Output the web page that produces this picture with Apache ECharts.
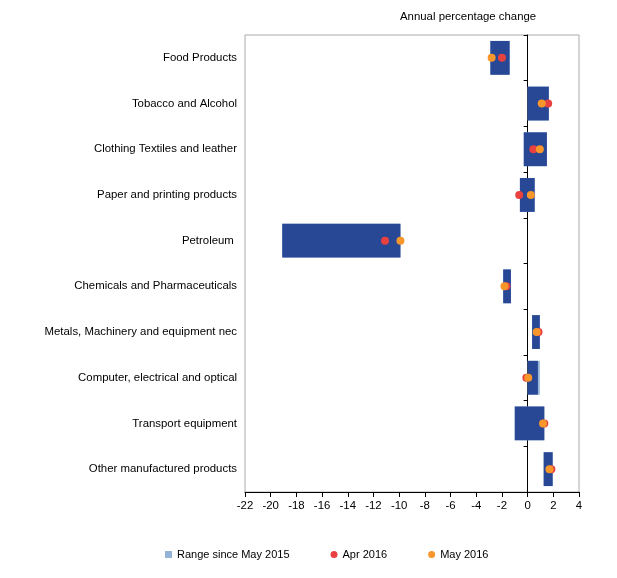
<!DOCTYPE html>
<html>
<head>
	<meta charset="utf-8">
	<title>Annual percentage change</title>
	<style type="text/css">
		body { margin: 0; padding: 0; background: #fff; }
		#main { width: 617px; height: 578px; }
	</style>
	<script src="https://cdn.jsdelivr.net/npm/echarts@6/dist/echarts.min.js"></script>
</head>
<body>
	<div id="main"></div>
	<script type="text/javascript">

	// categories, top to bottom
	var categories = [
		'Food Products',
		'Tobacco and Alcohol',
		'Clothing Textiles and leather',
		'Paper and printing products',
		'Petroleum ',
		'Chemicals and Pharmaceuticals',
		'Metals, Machinery and equipment nec',
		'Computer, electrical and optical',
		'Transport equipment',
		'Other manufactured products'
	];

	// range since May 2015 (light blue)
	var rangeLow  = [-2.9, 0.0, -0.3, -0.6, -19.1, -1.9, 0.35, 0.0, -1.0, 1.25];
	var rangeHigh = [-1.4, 1.65, 1.5, 0.55, -9.9, -1.3, 0.95, 0.95, 1.3, 1.95];
	// dark blue bars drawn over the range
	var darkLow   = [-2.9, 0.0, -0.3, -0.6, -19.1, -1.9, 0.35, 0.0, -1.0, 1.25];
	var darkHigh  = [-1.4, 1.65, 1.5, 0.55, -9.9, -1.3, 0.95, 0.8, 1.3, 1.95];

	var apr2016 = [-2.0, 1.6, 0.45, -0.65, -11.1, -1.65, 0.85, -0.1, 1.3, 1.85];
	var may2016 = [-2.8, 1.1, 0.95, 0.25, -9.9, -1.8, 0.7, 0.05, 1.2, 1.7];

	var xTicks = { min: -22, max: 4, step: 2 };

	var font = 'Liberation Sans, Arial, sans-serif';
	var fs = 11.4;

	function rangeData(lo, hi) {
		var out = [];
		for (var i = 0; i < categories.length; i++) {
			out.push([lo[i], hi[i], i]);
		}
		return out;
	}

	function pointData(vals) {
		var out = [];
		for (var i = 0; i < categories.length; i++) {
			out.push([vals[i], categories[i]]);
		}
		return out;
	}

	// floating bar from low to high
	function renderRange(params, api) {
		var p1 = api.coord([api.value(0), api.value(2)]);
		var p2 = api.coord([api.value(1), api.value(2)]);
		var h = api.size([0, 1])[1] * 0.74;
		return {
			type: 'rect',
			shape: { x: p1[0], y: p1[1] - h / 2, width: p2[0] - p1[0], height: h },
			style: { fill: api.visual('color') }
		};
	}

	var chart = echarts.init(document.getElementById('main'));

	var option = {
		animation: false,
		title: {
			text: 'Annual percentage change',
			left: 395,
			top: 6,
			textStyle: { fontFamily: font, fontSize: fs, fontWeight: 'normal', color: '#000' }
		},
		legend: {
			left: 160,
			top: 544,
			itemGap: 41,
			itemWidth: 7,
			itemHeight: 7,
			textStyle: { fontFamily: font, fontSize: 11, color: '#000' },
			data: [
				{ name: 'Range since May 2015', icon: 'rect' },
				{ name: 'Apr 2016', icon: 'circle', itemStyle: { opacity: 1 } },
				{ name: 'May 2016', icon: 'circle', itemStyle: { opacity: 1 } }
			]
		},
		grid: {
			left: 245,
			right: 38,
			top: 35,
			bottom: 86,
			show: true,
			borderColor: '#aaaaaa',
			borderWidth: 1,
			containLabel: false
		},
		xAxis: {
			type: 'value',
			min: xTicks.min,
			max: xTicks.max,
			interval: xTicks.step,
			axisLine: { show: true, onZero: false, lineStyle: { color: '#000', width: 1 } },
			axisTick: { show: true, length: 5, lineStyle: { color: '#000' } },
			axisLabel: { fontFamily: font, fontSize: fs, color: '#000', margin: 8 },
			splitLine: { show: false }
		},
		yAxis: [
			{
				type: 'category',
				data: categories,
				inverse: true,
				axisLine: { show: false, onZero: false },
				axisTick: { show: false },
				axisLabel: { fontFamily: font, fontSize: fs, color: '#000', margin: 8 },
				splitLine: { show: false }
			},
			{
				type: 'category',
				data: categories,
				inverse: true,
				position: 'left',
				axisLine: { show: true, onZero: true, lineStyle: { color: '#000', width: 1 } },
				axisTick: { show: true, length: 4, lineStyle: { color: '#000' } },
				axisLabel: { show: false },
				splitLine: { show: false }
			}
		],
		series: [
			{
				name: 'Range since May 2015',
				type: 'custom',
				renderItem: renderRange,
				itemStyle: { color: '#95b3d7' },
				encode: { x: [0, 1], y: 2 },
				data: rangeData(rangeLow, rangeHigh),
				z: 2
			},
			{
				name: 'range-dark',
				type: 'custom',
				renderItem: renderRange,
				itemStyle: { color: '#284795' },
				encode: { x: [0, 1], y: 2 },
				data: rangeData(darkLow, darkHigh),
				z: 3
			},
			{
				name: 'Apr 2016',
				type: 'scatter',
				symbol: 'circle',
				symbolSize: 8,
				itemStyle: { color: '#e8413f', opacity: 1 },
				data: pointData(apr2016),
				z: 4
			},
			{
				name: 'May 2016',
				type: 'scatter',
				symbol: 'circle',
				symbolSize: 8,
				itemStyle: { color: '#f7962b', opacity: 1 },
				data: pointData(may2016),
				z: 5
			}
		]
	};

	chart.setOption(option);

	</script>
</body>
</html>
